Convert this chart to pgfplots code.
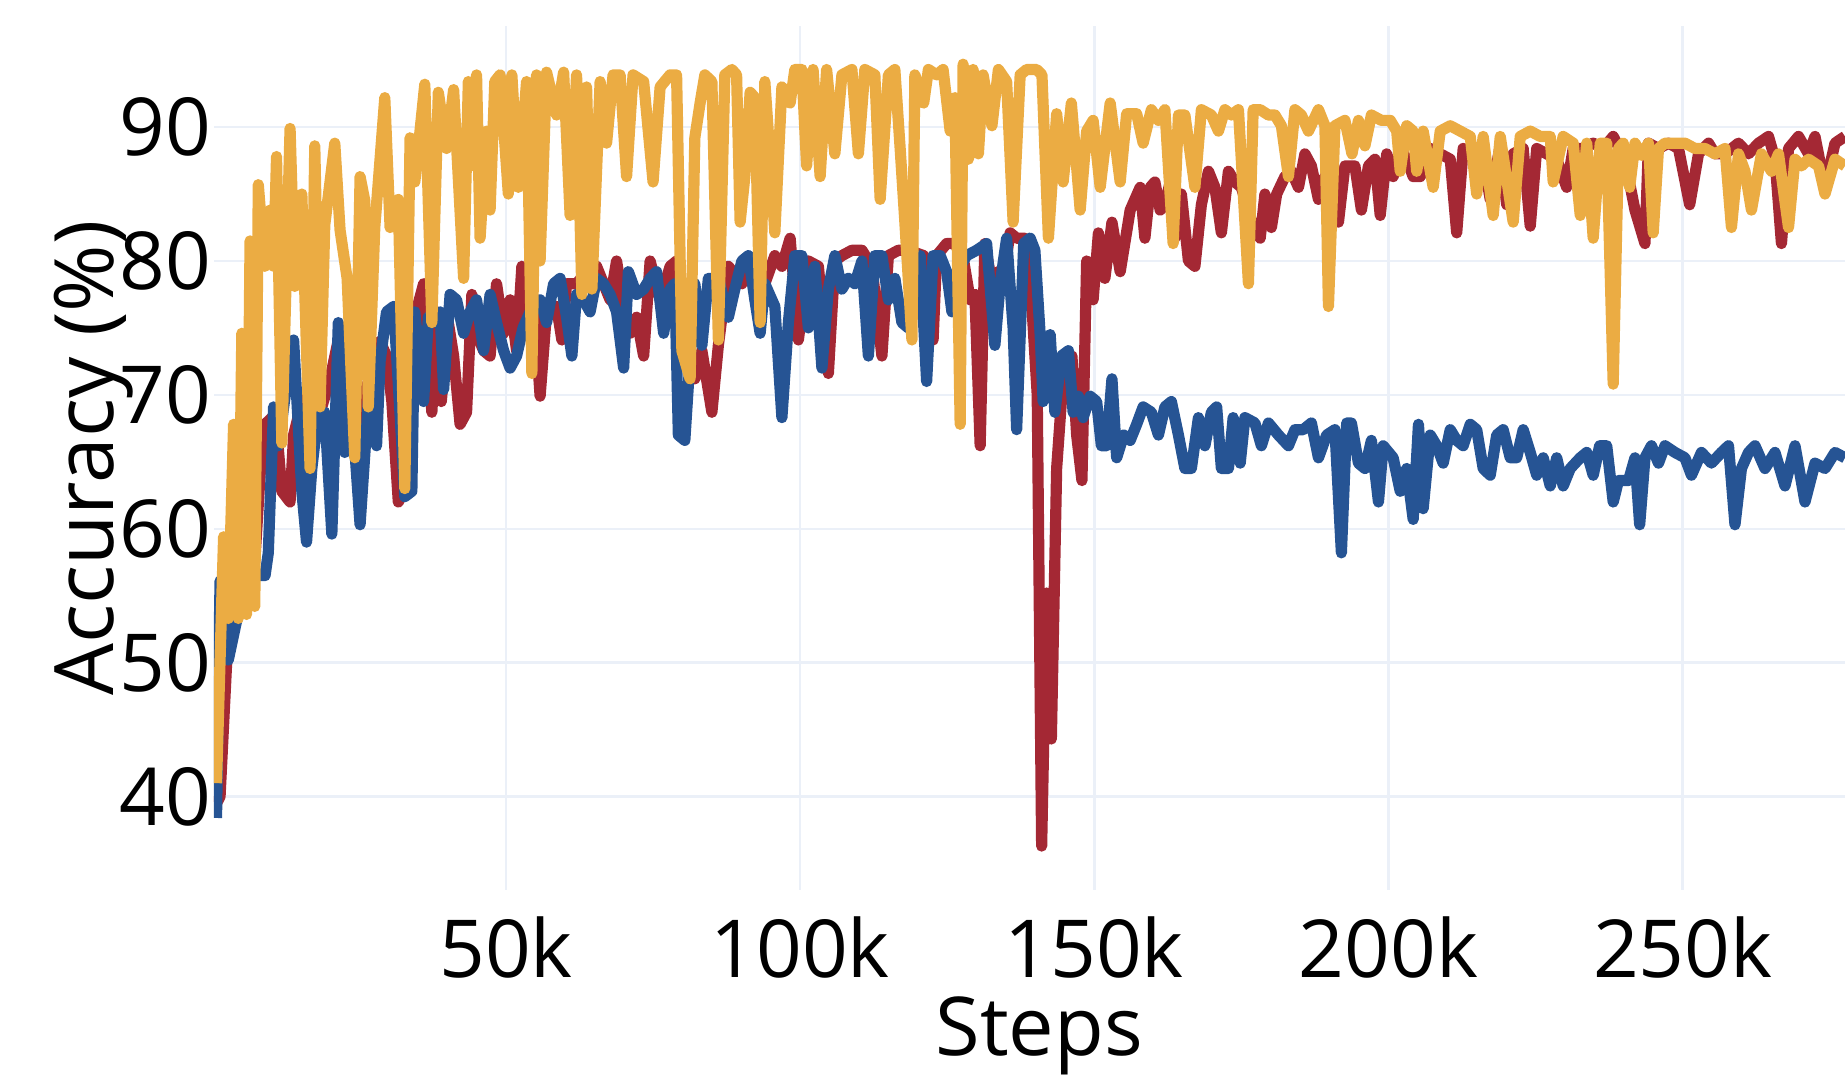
\documentclass[border=0pt]{standalone}
\usepackage{fontspec}
\setmainfont{Open Sans}
\usepackage{pgfplots}
\pgfplotsset{compat=1.18}
\definecolor{cred}{RGB}{164,40,52}
\definecolor{cblue}{RGB}{38,84,148}
\definecolor{cyel}{RGB}{235,172,67}
\definecolor{cgrid}{RGB}{235,240,248}
\begin{document}
\begin{tikzpicture}
\begin{axis}[
  scale only axis, width=407.75pt, height=216pt,
  xmin=0.37, xmax=277.6, ymin=33.02, ymax=97.55,
  axis line style={draw=none},
  major tick length=0pt,
  xtick={50,100,150,200,250}, xticklabels={50k,100k,150k,200k,250k},
  ytick={40,50,60,70,80,90}, yticklabels={40,50,60,70,80,90},
  grid=major, major grid style={cgrid, line width=0.6pt},
  tick label style={font=\fontsize{20}{24}\selectfont, inner sep=0pt},
  xticklabel style={anchor=base, yshift=-21.75pt},
  yticklabel style={anchor=east, xshift=-0.5pt},
  xlabel={Steps}, ylabel={Accuracy (\%)},
  every axis x label/.style={at={(axis description cs:0.506,0)}, anchor=base, yshift=-41.25pt, font=\fontsize{20.3}{24}\selectfont, inner sep=0pt},
  every axis y label/.style={at={(axis description cs:-0.0615,0.5)}, rotate=90, anchor=base, font=\fontsize{20.5}{24}\selectfont, inner sep=0pt},
  clip=true,
]
\coordinate (bl) at (rel axis cs:0,0);
\coordinate (tr) at (rel axis cs:1,1);
\addplot[cred, line width=2.8pt, line join=round, no markers] coordinates {
(0.8,39.5)(1.4,40.0)(2.5,49.8)(3.4,53.6)(4.2,53.5)(5.1,57.0)(5.9,56.5)(7.3,57.5)(8.2,64.0)(9.05,67.8)(10.2,68.3)(11.3,66.0)(11.9,62.8)(13.3,62.0)(13.9,67.0)(15.6,70.0)(17.0,68.3)(18.7,69.1)(20.1,71.2)(21.5,74.1)(22.6,73.0)(24.6,68.0)(26.6,71.0)(28.6,74.0)(29.7,72.9)(30.6,69.5)(31.7,62.0)(32.8,63.0)(34.0,75.0)(36.0,78.3)(37.4,68.7)(38.3,76.2)(39.0,69.5)(40.2,75.4)(41.1,72.9)(42.2,67.8)(43.3,68.7)(44.2,77.5)(45.0,74.6)(46.2,73.3)(47.3,72.9)(48.4,78.3)(49.6,74.6)(50.7,77.1)(51.8,73.3)(52.7,79.6)(53.5,76.6)(54.7,77.1)(55.8,69.9)(56.9,76.2)(58.6,76.6)(59.5,74.1)(60.3,78.3)(62.0,78.3)(63.7,79.2)(65.4,79.6)(66.6,78.3)(67.7,77.1)(68.8,80.0)(70.0,76.6)(71.1,74.6)(72.2,75.8)(73.4,72.9)(74.5,80.0)(76.2,77.1)(77.9,79.6)(79.0,80.0)(80.4,73.7)(82.1,71.2)(83.3,73.3)(85.0,68.7)(86.1,73.7)(87.8,79.6)(90.1,78.3)(91.8,80.0)(92.9,75.8)(94.0,78.3)(95.7,80.4)(96.9,79.6)(98.3,81.7)(99.7,74.1)(101.4,80.0)(103.1,79.6)(104.8,71.6)(105.9,80.0)(107.1,80.4)(108.8,80.8)(110.5,80.8)(112.2,79.6)(113.9,72.9)(115.0,80.4)(116.7,80.8)(118.4,80.8)(121.0,80.4)(122.6,74.1)(123.2,80.4)(124.9,81.3)(126.0,81.3)(127.5,80.8)(128.9,77.1)(129.7,77.5)(130.6,66.2)(131.4,81.3)(132.6,78.3)(133.7,79.2)(134.5,78.8)(135.7,82.1)(136.8,81.7)(138.2,81.7)(139.4,76.6)(140.3,70.0)(141.05,36.3)(141.9,55.2)(142.7,44.3)(143.6,64.5)(144.4,69.5)(145.3,72.0)(146.2,72.9)(147.0,67.0)(147.9,63.6)(148.7,80.0)(149.8,77.1)(150.7,82.1)(151.8,78.7)(153.0,82.9)(154.4,79.2)(156.1,83.8)(157.8,85.5)(158.6,81.7)(159.5,85.5)(160.3,85.9)(161.2,83.8)(162.0,84.2)(162.9,85.9)(163.7,81.7)(164.8,85.0)(166.0,80.0)(167.1,79.6)(168.2,84.2)(169.4,86.7)(170.5,85.5)(171.6,82.1)(172.8,86.7)(173.9,85.9)(175.0,85.5)(176.7,83.0)(178.2,81.7)(179.0,85.0)(180.1,82.5)(181.0,85.0)(182.4,86.3)(183.5,86.7)(184.7,85.5)(185.8,88.0)(186.9,87.1)(188.1,84.6)(189.2,86.3)(190.3,85.9)(191.5,82.9)(192.6,87.1)(194.3,87.1)(195.4,83.8)(196.6,87.1)(197.7,87.6)(198.6,83.4)(199.7,88.0)(200.8,86.3)(202.0,88.4)(203.1,87.6)(204.2,86.3)(205.4,86.3)(207.1,88.4)(208.8,88.0)(210.5,87.6)(211.6,82.1)(212.7,88.4)(214.4,88.0)(216.1,87.6)(217.3,84.6)(218.9,88.4)(220.1,84.2)(221.2,88.0)(222.9,88.4)(224.1,82.6)(225.2,88.4)(226.9,88.0)(228.6,87.6)(230.3,85.5)(231.4,88.4)(233.1,88.4)(234.8,88.8)(236.5,88.4)(238.2,89.3)(240.2,87.6)(241.9,83.8)(243.6,81.3)(244.2,88.8)(245.9,88.4)(247.6,88.8)(249.3,88.4)(251.2,84.2)(252.7,88.0)(254.4,88.8)(255.5,88.0)(257.2,88.0)(259.5,88.8)(261.2,88.0)(262.9,88.8)(264.6,89.3)(265.7,87.6)(266.8,81.3)(268.0,88.4)(269.7,89.3)(271.4,88.0)(272.5,89.3)(274.2,85.5)(275.9,88.8)(277.6,89.3)
};
\addplot[cblue, line width=2.8pt, line join=round, no markers] coordinates {
(0.8,38.4)(1.4,56.1)(2.8,50.2)(4.2,53.1)(5.1,55.0)(6.5,57.0)(8.2,56.5)(9.05,56.5)(9.6,58.2)(10.5,69.1)(11.3,66.2)(12.5,70.0)(13.9,74.1)(15.3,62.8)(16.1,59.0)(17.0,64.5)(18.1,68.7)(19.2,68.7)(20.4,59.6)(21.5,75.4)(22.6,65.7)(23.8,69.1)(25.2,60.3)(26.6,69.5)(28.0,66.2)(28.6,72.5)(29.7,76.2)(30.9,76.6)(31.7,70.8)(32.8,62.4)(34.0,62.8)(34.5,76.2)(36.0,69.5)(36.8,75.8)(38.2,75.4)(38.8,76.2)(39.4,70.4)(40.5,77.5)(41.6,77.1)(42.8,74.6)(43.9,76.2)(45.0,77.1)(46.2,73.3)(47.3,77.5)(48.4,75.4)(49.6,73.3)(50.7,72.0)(51.8,72.9)(52.9,75.0)(54.1,76.2)(55.8,77.1)(56.9,75.4)(58.1,78.3)(59.2,78.7)(60.3,75.8)(61.2,72.9)(62.0,77.5)(63.2,77.1)(64.3,76.2)(65.4,78.7)(66.6,78.3)(67.7,77.5)(68.8,76.2)(70.0,72.0)(70.8,79.2)(72.2,77.5)(73.4,77.9)(74.5,78.7)(75.6,79.2)(76.8,74.6)(77.9,77.9)(78.7,78.3)(79.3,67.0)(80.4,66.6)(82.1,78.3)(83.3,73.7)(84.4,78.7)(86.1,78.7)(87.8,75.8)(88.9,77.9)(90.1,80.0)(91.2,80.4)(92.3,77.1)(93.2,74.6)(94.0,78.3)(95.7,76.6)(96.9,68.3)(98.0,75.4)(99.1,80.4)(100.3,80.4)(101.4,75.0)(102.5,79.6)(103.7,72.0)(104.8,77.9)(105.9,80.4)(107.1,77.9)(108.2,78.7)(109.3,78.3)(110.5,80.0)(111.6,72.9)(112.7,80.4)(113.9,80.4)(115.0,77.1)(116.1,78.7)(117.3,75.4)(118.4,75.0)(120.4,80.4)(121.5,71.0)(122.6,80.4)(123.8,80.4)(124.9,79.2)(125.8,76.2)(127.2,79.6)(128.3,80.4)(130.0,80.8)(131.7,81.3)(133.1,73.7)(134.0,78.3)(135.1,81.7)(136.2,75.0)(136.8,67.4)(138.0,81.3)(139.1,81.7)(139.9,80.8)(140.8,74.5)(141.3,69.5)(142.5,74.5)(143.3,68.7)(144.4,72.9)(145.6,73.3)(146.4,68.7)(147.3,69.9)(148.1,68.3)(149.3,69.9)(150.4,69.5)(151.2,66.2)(152.1,66.2)(153.0,71.2)(153.8,65.3)(155.0,67.0)(156.1,66.6)(157.2,67.8)(158.3,69.1)(159.7,68.7)(160.9,67.0)(162.0,69.1)(163.1,69.5)(164.3,67.0)(165.4,64.5)(166.5,64.5)(167.7,68.3)(168.8,66.2)(169.9,68.7)(170.8,69.1)(171.6,64.5)(172.8,64.5)(173.6,68.3)(174.8,64.9)(175.6,68.3)(177.3,67.9)(178.4,66.2)(179.6,67.9)(181.3,67.0)(183.0,66.2)(184.1,67.4)(185.5,67.4)(186.9,67.9)(188.1,65.3)(189.5,67.0)(190.9,67.4)(192.0,58.2)(192.9,67.9)(193.7,67.9)(194.9,64.9)(196.0,64.5)(197.1,66.6)(198.3,62.0)(199.1,66.2)(200.8,65.3)(202.0,62.8)(203.1,64.5)(204.2,60.7)(205.1,67.8)(205.9,61.5)(207.1,67.0)(208.2,66.2)(209.3,64.9)(210.5,67.4)(211.6,66.6)(212.7,66.2)(213.9,67.8)(215.0,67.4)(216.1,64.5)(217.3,64.0)(218.4,67.0)(219.5,67.4)(220.7,65.3)(221.8,65.3)(222.9,67.4)(224.1,65.7)(225.2,64.0)(226.3,65.3)(227.5,63.2)(228.6,65.3)(229.7,63.2)(230.9,64.5)(232.6,65.3)(233.7,65.7)(234.8,64.0)(235.9,66.2)(237.1,66.2)(238.2,62.0)(239.1,63.6)(240.8,63.6)(241.9,65.3)(242.7,60.3)(243.6,65.3)(244.7,66.2)(245.9,64.9)(247.0,66.2)(248.7,65.7)(250.4,65.3)(251.5,64.0)(253.2,65.7)(254.9,64.9)(256.6,65.7)(257.8,66.2)(258.9,60.3)(260.0,64.5)(261.2,65.7)(262.3,66.2)(264.0,64.5)(265.7,65.7)(267.4,63.2)(269.1,66.2)(270.8,62.0)(272.5,64.9)(274.2,64.5)(275.9,65.7)(277.6,65.3)
};
\addplot[cyel, line width=2.8pt, line join=round, no markers] coordinates {
(0.8,41.0)(2.0,59.4)(2.8,53.3)(3.7,67.8)(4.5,53.3)(5.1,74.6)(5.9,53.6)(6.5,81.5)(7.3,54.2)(7.9,85.7)(9.0,79.6)(9.9,83.8)(10.5,79.6)(11.0,87.8)(11.9,66.4)(13.3,89.9)(14.1,78.1)(15.3,85.0)(16.7,64.5)(17.5,88.6)(18.4,69.1)(19.2,82.7)(20.9,88.8)(21.8,82.3)(23.0,78.7)(24.3,65.3)(25.2,86.3)(26.0,84.5)(26.6,69.1)(27.7,82.5)(29.4,92.2)(30.3,82.5)(31.7,84.6)(32.8,63.0)(33.7,89.2)(34.5,85.9)(36.2,93.2)(37.4,75.4)(38.5,92.6)(39.9,88.4)(41.1,92.8)(42.8,78.7)(43.6,93.4)(44.5,87.1)(45.0,93.9)(45.6,81.7)(46.7,89.7)(47.3,83.8)(48.1,93.4)(49.0,93.9)(50.4,85.0)(51.0,93.9)(52.1,85.5)(53.5,93.4)(54.4,71.6)(55.2,93.9)(55.8,80.0)(56.9,94.1)(58.6,90.9)(59.8,94.1)(60.9,83.4)(62.0,93.9)(62.9,77.5)(63.7,93.0)(64.6,77.9)(66.0,93.4)(67.1,88.8)(68.2,93.9)(69.4,93.9)(70.5,86.3)(71.6,93.9)(73.4,93.4)(75.0,85.9)(76.2,93.0)(77.9,93.9)(79.0,93.9)(79.9,73.3)(81.3,71.2)(82.1,89.2)(83.0,91.8)(83.8,93.9)(85.0,93.4)(86.1,74.1)(87.2,93.9)(88.4,94.3)(89.2,93.9)(89.8,82.9)(90.6,86.3)(91.5,92.6)(92.3,92.2)(93.2,75.4)(94.0,93.4)(94.9,87.6)(95.7,82.1)(96.9,93.0)(98.3,91.8)(99.1,94.3)(100.3,94.3)(101.1,87.1)(102.2,94.3)(103.4,86.3)(104.5,94.3)(105.9,88.0)(107.1,93.9)(108.8,94.3)(109.9,88.0)(111.0,94.3)(112.7,93.9)(113.6,84.6)(115.0,93.9)(116.1,94.3)(117.0,88.4)(117.8,82.9)(119.0,74.1)(119.5,93.9)(121.0,91.8)(121.8,94.3)(123.2,93.9)(124.3,94.3)(125.5,89.7)(126.3,92.2)(127.2,67.8)(127.7,94.7)(128.6,87.6)(129.4,94.3)(130.3,88.0)(131.1,93.9)(132.6,90.1)(133.7,94.3)(135.1,93.4)(136.2,82.9)(137.4,93.9)(138.5,94.3)(140.2,94.3)(141.1,93.9)(142.2,81.7)(143.6,91.0)(144.7,85.9)(146.1,91.8)(147.6,83.8)(148.7,89.7)(149.8,90.5)(151.0,85.5)(152.7,91.8)(154.4,85.9)(155.5,91.0)(157.2,91.0)(158.3,88.8)(159.7,91.3)(160.9,90.5)(162.0,91.3)(163.4,81.3)(164.3,90.9)(165.4,90.9)(167.1,85.5)(168.2,91.3)(169.9,90.9)(171.1,89.7)(172.2,91.3)(173.3,90.9)(174.5,91.3)(176.2,78.3)(177.0,91.3)(178.2,91.3)(179.6,90.9)(180.7,90.9)(181.8,90.1)(183.0,86.3)(184.1,91.3)(185.2,90.9)(186.4,89.7)(188.1,91.3)(189.2,90.1)(189.8,76.6)(190.9,90.1)(192.6,90.5)(193.8,88.0)(194.9,90.5)(196.0,88.6)(197.1,90.9)(198.8,90.5)(200.3,90.5)(201.4,89.7)(202.0,86.7)(203.1,90.1)(204.2,89.7)(204.8,86.7)(205.9,89.7)(207.6,85.5)(208.8,89.7)(210.5,90.1)(212.2,89.7)(213.9,89.3)(215.0,85.0)(216.1,89.3)(217.8,83.4)(219.0,89.3)(221.2,82.9)(222.4,89.3)(224.1,89.7)(225.8,89.3)(227.5,89.3)(228.0,85.9)(229.7,89.3)(231.4,88.8)(232.6,83.4)(233.7,88.8)(234.8,81.7)(236.0,88.8)(237.1,88.8)(238.2,70.8)(239.1,88.4)(239.9,88.8)(241.0,85.5)(241.9,88.8)(243.0,87.9)(244.2,88.8)(245.0,82.1)(245.9,88.4)(247.0,88.8)(248.7,88.8)(250.4,88.8)(252.1,88.4)(253.8,88.4)(255.5,88.0)(257.2,88.4)(258.3,82.5)(259.5,88.0)(260.6,86.7)(261.7,83.8)(263.4,88.0)(265.1,86.7)(266.3,88.0)(268.0,82.5)(269.1,87.6)(270.2,87.1)(271.4,87.6)(273.1,87.1)(274.2,85.0)(275.9,87.6)(277.6,87.1)
};
\end{axis}
\pgfresetboundingbox
\path[use as bounding box] ([xshift=-53.5pt,yshift=-46.25pt]bl) rectangle ([yshift=6.5pt]tr);
\end{tikzpicture}
\end{document}
